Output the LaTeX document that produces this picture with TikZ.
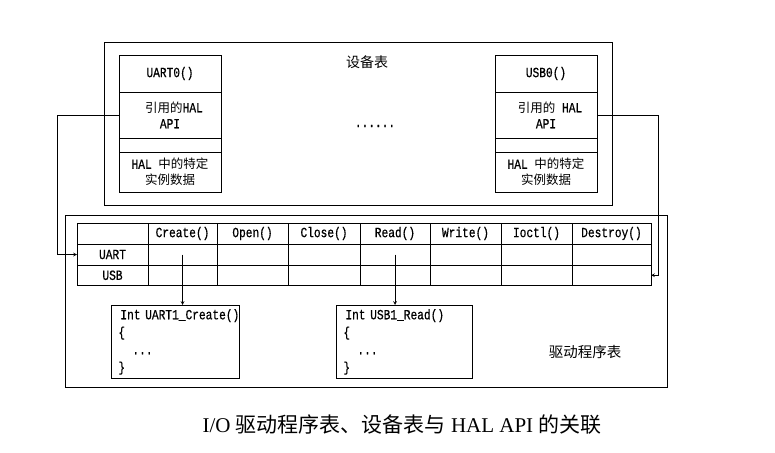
\documentclass[tikz,border=0pt]{standalone}
\usepackage{fontspec}
\setmainfont{Liberation Serif}
\newfontfamily\cjk{Noto Sans CJK SC}
\newfontfamily\tb[FakeStretch=0.8, FakeBold=0.6]{Liberation Mono}
\newcommand{\zh}[1]{{\cjk #1}}
\newcommand{\zhs}[1]{{\cjk\fontsize{12.5}{15}\selectfont #1}}
\newcommand{\tbfont}{\fontsize{14}{16}\selectfont\tb}
\newcommand{\codefont}{\fontsize{14}{17.5}\selectfont\tb}
\usetikzlibrary{arrows.meta,positioning}

\begin{document}
\begin{tikzpicture}[x=1pt, y=-1pt,
    frame/.style={draw, line width=0.9pt, inner sep=0pt},
    cell/.style={draw, line width=0.8pt, inner sep=0pt, outer sep=0pt, font=\tbfont},
    devcell/.style={cell, minimum width=102pt, align=center},
    code/.style={draw, line width=0.8pt, anchor=north west, align=left, font=\codefont, inner xsep=7pt},
    link/.style={line width=0.7pt, -stealth}]
    \useasboundingbox (0,0) rectangle (775,452);

    % 设备表
    \node[frame, minimum width=508pt, minimum height=163pt] (devtab) at (358,123.5) {};
    \node[font=\fontsize{14}{16}\selectfont\cjk] (devlabel) at (367,62) {设备表};
    \node[font=\tbfont] (dots) at (375,126) {......};

    \node[devcell, minimum height=37pt] (uart0) at (170,73.5) {UART0()};
    \node[devcell, minimum height=46pt, below=0pt of uart0] (uart0api) {\hspace{8pt}\zhs{引用的}HAL\\API};
    \node[devcell, minimum height=14pt, below=0pt of uart0api] (uart0gap) {};
    \node[devcell, minimum height=40pt, below=0pt of uart0gap] (uart0data) {HAL \zhs{中的特定}\\\zhs{实例数据}};

    \node[devcell, minimum height=37pt] (usb0) at (546,73.5) {USB0()};
    \node[devcell, minimum height=46pt, below=0pt of usb0] (usb0api) {\hspace{8pt}\zhs{引用的} HAL\\API};
    \node[devcell, minimum height=14pt, below=0pt of usb0api] (usb0gap) {};
    \node[devcell, minimum height=40pt, below=0pt of usb0gap] (usb0data) {HAL \zhs{中的特定}\\\zhs{实例数据}};

    % 驱动程序表
    \node[frame, minimum width=602pt, minimum height=172pt] (drvtab) at (366,301) {};
    \node[font=\fontsize{14.5}{16}\selectfont\cjk] (drvlabel) at (585,352) {驱动程序表};

    \node[cell, minimum width=71pt, minimum height=21pt] (h-name) at (112.5,233.5) {};
    \node[cell, minimum width=71pt, minimum height=21pt, below=0pt of h-name] (uart) {UART};
    \node[cell, minimum width=71pt, minimum height=20.5pt, below=0pt of uart] (usb) {USB};
    \foreach \l/\r/\nm/\lab in {148/217/create/Create(), 217/288/open/Open(), 288/360/close/Close(),
        360/430/read/Read(), 430/501/write/Write(), 501/572/ioctl/Ioctl(), 572/651/destroy/Destroy()}{
      \node[cell, minimum width={(\r-\l)*1pt}, minimum height=21pt] (h-\nm) at ({(\l+\r)/2},233.5) {\lab};
      \node[cell, minimum width={(\r-\l)*1pt}, minimum height=21pt] (uart-\nm) at ({(\l+\r)/2},254.5) {};
      \node[cell, minimum width={(\r-\l)*1pt}, minimum height=20.5pt] (usb-\nm) at ({(\l+\r)/2},275.25) {};
    }

    \node[code, minimum width=128pt, minimum height=73pt, text width=114pt] (uartcode) at (111,305)
        {\mbox{\hspace{2pt}Int UART1\_Create()}\\\{\\\quad ...\\\}};
    \node[code, minimum width=136pt, minimum height=73pt, text width=122pt] (usbcode) at (336,305)
        {\mbox{\hspace{2pt}Int USB1\_Read()}\\\{\\\quad ...\\\}};

    \draw[link] (uart-create.center) -- (uart-create.center |- uartcode.north);
    \draw[link] (uart-read.center) -- (uart-read.center |- usbcode.north);
    \draw[link] (uart0api.west) -- ++(-62,0) |- (uart.west);
    \draw[link] (usb0api.east) -- ++(61,0) |- (usb-destroy.east);

    \node[font=\fontsize{21}{24}\selectfont] (caption) at (402,425)
        {I/O \zh{驱动程序表、设备表与} HAL API \zh{的关联}};
\end{tikzpicture}
\end{document}
